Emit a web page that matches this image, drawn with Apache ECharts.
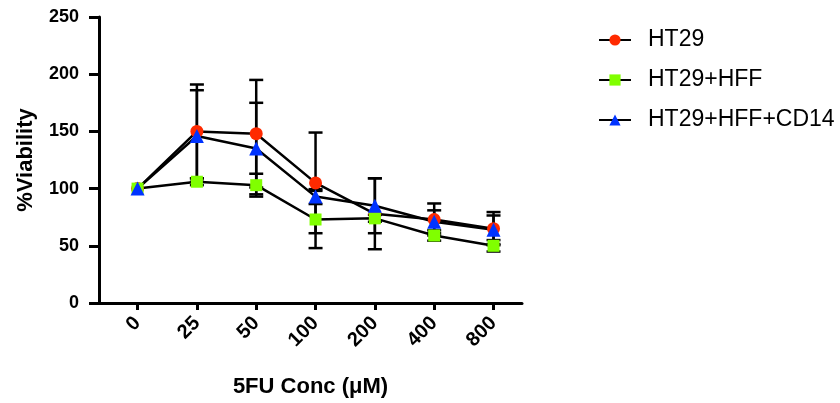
<!DOCTYPE html>
<html>
<head>
<meta charset="utf-8">
<script src="https://cdn.jsdelivr.net/npm/echarts@6/dist/echarts.min.js"></script>
<style>
  html, body { margin: 0; padding: 0; background: #fff; }
  #chart { width: 840px; height: 403px; }
</style>
</head>
<body>
<div id="chart"></div>
<script>
// concentrations on the x axis
const concs = ['0', '25', '50', '100', '200', '400', '800']

// mean % viability per group
const ht29 = [100, 150, 148, 105, 78, 73, 65]
const ht29Hff = [100, 106, 103, 73, 74, 59, 50]
const ht29HffCd14 = [100, 146, 135, 93, 85, 71, 64]

// error (SD) per group
const ht29Err = [0, 41, 47, 44, 31, 14, 14.5]
const ht29HffErr = [0, 3, 10, 25, 3, 4.5, 5]
const ht29HffCd14Err = [0, 40, 40, 6.5, 24, 10, 12.5]

const font = '"Liberation Sans", Arial, Helvetica, sans-serif'
const idx = concs.map((c, i) => i)

function errData(means, errs) {
  return means.map((m, i) => [i, m - errs[i], m + errs[i], errs[i]])
}

function errSeries(name, means, errs) {
  return {
    name: name + ' err',
    type: 'custom',
    z: 1,
    silent: true,
    data: errData(means, errs),
    renderItem: (params, api) => {
      if (api.value(3) <= 0) return null
      const x = api.value(0)
      const lo = api.coord([x, api.value(1)])
      const hi = api.coord([x, api.value(2)])
      const hw = 7
      const style = { stroke: '#000', lineWidth: 2.5 }
      return {
        type: 'group',
        children: [
          { type: 'line', shape: { x1: lo[0], y1: lo[1], x2: hi[0], y2: hi[1] }, style },
          { type: 'line', shape: { x1: hi[0] - hw, y1: hi[1], x2: hi[0] + hw, y2: hi[1] }, style },
          { type: 'line', shape: { x1: lo[0] - hw, y1: lo[1], x2: lo[0] + hw, y2: lo[1] }, style },
        ],
      }
    },
  }
}

function lineSeries(name, means, symbol, size, color) {
  return {
    name,
    type: 'line',
    z: 3,
    data: means.map((m, i) => [i, m]),
    symbol,
    symbolSize: size,
    showAllSymbol: true,
    lineStyle: { color: '#000', width: 2.5 },
    itemStyle: { color, borderWidth: 0 },
    emphasis: { disabled: true },
  }
}

const chart = echarts.init(document.getElementById('chart'))

chart.setOption({
  animation: false,
  backgroundColor: '#fff',
  grid: { left: 99, right: 318, top: 17, bottom: 96, containLabel: false },
  legend: {
    orient: 'vertical',
    left: 593,
    top: 23,
    itemWidth: 32,
    itemHeight: 14,
    itemGap: 16,
    data: ['HT29', 'HT29+HFF', 'HT29+HFF+CD14'],
    textStyle: { fontFamily: font, fontSize: 23, color: '#000', lineHeight: 24, padding: [0, 0, 0, 12] },
  },
  xAxis: {
    type: 'value',
    min: -0.65,
    max: 6.48,
    name: '5FU Conc (μM)',
    nameLocation: 'middle',
    nameGap: 73,
    nameTextStyle: { fontFamily: font, fontSize: 22, fontWeight: 'bold', color: '#000' },
    axisLine: { show: true, onZero: false, lineStyle: { color: '#000', width: 3 } },
    axisTick: { show: true, customValues: idx, length: 7, lineStyle: { color: '#000', width: 3 } },
    axisLabel: {
      customValues: idx,
      formatter: v => concs[Math.round(v)],
      rotate: 45,
      margin: 17,
      fontFamily: font,
      fontSize: 20,
      fontWeight: 'bold',
      color: '#000',
    },
    splitLine: { show: false },
  },
  yAxis: {
    type: 'value',
    min: 0,
    max: 250,
    interval: 50,
    name: '%Viability',
    nameLocation: 'middle',
    nameGap: 62,
    nameTextStyle: { fontFamily: font, fontSize: 22, fontWeight: 'bold', color: '#000' },
    axisLine: { show: true, onZero: false, lineStyle: { color: '#000', width: 3 } },
    axisTick: { show: true, length: 10, lineStyle: { color: '#000', width: 3 } },
    axisLabel: { margin: 20, fontFamily: font, fontSize: 18, fontWeight: 'bold', color: '#000' },
    splitLine: { show: false },
  },
  series: [
    errSeries('HT29', ht29, ht29Err),
    errSeries('HT29+HFF', ht29Hff, ht29HffErr),
    errSeries('HT29+HFF+CD14', ht29HffCd14, ht29HffCd14Err),
    lineSeries('HT29', ht29, 'circle', 13, '#FF2A00'),
    lineSeries('HT29+HFF', ht29Hff, 'rect', 12, '#80FF00'),
    lineSeries('HT29+HFF+CD14', ht29HffCd14, 'triangle', 14, '#0033FF'),
  ],
})
</script>
</body>
</html>
